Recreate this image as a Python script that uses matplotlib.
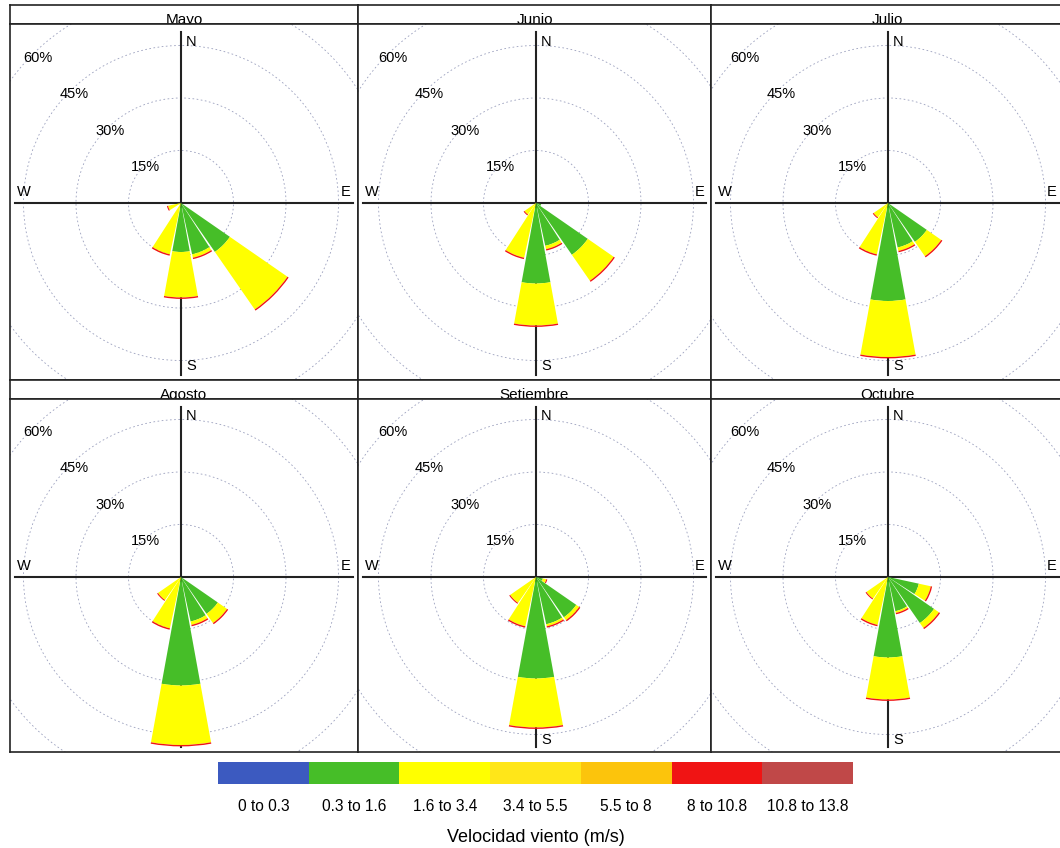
import matplotlib.pyplot as plt
from matplotlib.patches import Wedge, Circle

plt.rcParams['font.family'] = ['Liberation Sans', 'DejaVu Sans']

# data -------------------------------------------------------------
months = ['Mayo', 'Junio', 'Julio', 'Agosto', 'Setiembre', 'Octubre']
directions = ['N', 'NNE', 'NE', 'ENE', 'E', 'ESE', 'SE', 'SSE',
              'S', 'SSW', 'SW', 'WSW', 'W', 'WNW', 'NW', 'NNW']
speed_labels = ['0 to 0.3', '0.3 to 1.6', '1.6 to 3.4', '3.4 to 5.5',
                '5.5 to 8', '8 to 10.8', '10.8 to 13.8']
speed_colors = ['#3c5ac0', '#46be28', '#ffff00', '#ffe619',
                '#fcc40c', '#f01414', '#c04848']
rings = [15, 30, 45, 60]

# frequency (%) per direction, N first and clockwise
#              N  NNE NE ENE E  ESE  SE    SSE   S     SSW   SW   WSW  W WNW NW NNW
green_mayo  = [0, 0, 0, 0, 0, 0.0, 17.0, 15.0, 14.0, 0.0, 0.0, 0.0, 0, 0, 0, 0]
yellow_mayo = [0, 0, 0, 0, 0, 0.0, 20.0, 1.0, 13.0, 15.0, 0.0, 3.8, 0, 0, 0, 0]
red_mayo    = [0, 0, 0, 0, 0, 0.0, 0.4, 0.4, 0.4, 0.4, 0.0, 0.3, 0, 0, 0, 0]

green_junio  = [0, 0, 0, 0, 0, 1.5, 18.0, 12.5, 23.0, 0.0, 0.0, 0, 0, 0, 0, 0]
yellow_junio = [0, 0, 0, 0, 0, 0.0, 9.0, 1.0, 12.0, 16.0, 4.0, 0, 0, 0, 0, 0]
red_junio    = [0, 0, 0, 0, 0, 0.0, 0.4, 0.4, 0.4, 0.4, 0.3, 0, 0, 0, 0, 0]

green_julio  = [0, 0, 0, 0, 0, 0.0, 13.5, 13.0, 28.0, 0.0, 0.0, 0, 0, 0, 0, 0]
yellow_julio = [0, 0, 0, 0, 0, 0.0, 5.0, 1.0, 16.0, 15.0, 5.0, 0, 0, 0, 0, 0]
red_julio    = [0, 0, 0, 0, 0, 0.0, 0.4, 0.4, 0.4, 0.4, 0.3, 0, 0, 0, 0, 0]

green_agosto  = [0, 0, 0, 0, 0, 0.0, 12.8, 13.0, 31.0, 0.0, 0.0, 0, 0, 0, 0, 0]
yellow_agosto = [0, 0, 0, 0, 0, 0.0, 3.2, 1.0, 17.0, 15.0, 8.0, 0, 0, 0, 0, 0]
red_agosto    = [0, 0, 0, 0, 0, 0.0, 0.4, 0.4, 0.4, 0.4, 0.3, 0, 0, 0, 0, 0]

green_setiembre  = [0, 0, 0, 0, 0, 2.0, 14.0, 13.8, 29.0, 0.0, 0.0, 0, 0, 0, 0, 0]
yellow_setiembre = [0, 0, 0, 0, 0, 1.0, 1.0, 0.6, 14.0, 14.4, 9.0, 0, 0, 0, 0, 0]
red_setiembre    = [0, 0, 0, 0, 0, 0.3, 0.4, 0.4, 0.4, 0.4, 0.3, 0, 0, 0, 0, 0]

green_octubre  = [0, 0, 0, 0, 0, 9.0, 16.0, 10.0, 23.0, 0.0, 0.0, 0, 0, 0, 0, 0]
yellow_octubre = [0, 0, 0, 0, 0, 3.5, 1.7, 0.5, 12.0, 14.0, 7.5, 0, 0, 0, 0, 0]
red_octubre    = [0, 0, 0, 0, 0, 0.4, 0.4, 0.4, 0.4, 0.4, 0.3, 0, 0, 0, 0, 0]

greens = [green_mayo, green_junio, green_julio, green_agosto, green_setiembre, green_octubre]
yellows = [yellow_mayo, yellow_junio, yellow_julio, yellow_agosto, yellow_setiembre, yellow_octubre]
reds = [red_mayo, red_junio, red_julio, red_agosto, red_setiembre, red_octubre]

# layout (pixels of a 1060x848 canvas) ----------------------------
W, H = 1060, 848
PX = 3.5  # pixels per percent
col_edges = [(10, 358), (358, 711), (711, 1064)]
col_centers = [181, 536, 888]
row_plot = [(24, 380), (399, 752)]
row_title = [(5, 24), (380, 399)]
row_centers = [203, 577]
line_col = '#222222'

fig = plt.figure(figsize=(W / 100, H / 100), dpi=100)


def add_box(x0, x1, y0, y1):
    a = fig.add_axes([x0 / W, 1 - y1 / H, (x1 - x0) / W, (y1 - y0) / H])
    a.set_xticks([])
    a.set_yticks([])
    for s in a.spines.values():
        s.set_linewidth(1.2)
        s.set_color(line_col)
    return a


def draw_rose(ax, green, yellow, red):
    for i, d in enumerate(directions):
        ang = 90 - 22.5 * i
        r0 = 0
        for val, col in ((green[i], speed_colors[1]),
                         (yellow[i], speed_colors[2]),
                         (red[i], speed_colors[5])):
            if val > 0:
                ax.add_patch(Wedge((0, 0), r0 + val, ang - 10.3, ang + 10.3,
                                   width=val, facecolor=col,
                                   edgecolor='none', zorder=3))
            r0 += val


for k, month in enumerate(months):
    r, c = divmod(k, 3)
    x0, x1 = col_edges[c]
    cx, cy = col_centers[c], row_centers[r]
    ty0, ty1 = row_title[r]
    py0, py1 = row_plot[r]

    at = add_box(x0, x1, ty0, ty1)
    at.text(0.5, 0.02, month, ha='center', va='baseline', fontsize=11,
            transform=at.transAxes)

    ax = add_box(x0, x1, py0, py1)
    xlo, xhi = (x0 - cx) / PX, (x1 - cx) / PX
    ylo, yhi = (cy - py1) / PX, (cy - py0) / PX
    ax.set_xlim(xlo, xhi)
    ax.set_ylim(ylo, yhi)
    ax.set_facecolor('white')

    for ring in rings:
        ax.add_patch(Circle((0, 0), ring, fill=False, ec='#9a9fbd', lw=0.6,
                            ls=(0, (2, 3)), zorder=1))
        ax.text(-0.68 * ring, 0.69 * ring, f'{ring}%', ha='center',
                va='center', fontsize=10.5, zorder=2)

    ax.plot([0, 0], [ylo + 1.5, yhi - 2.3], color=line_col, lw=1.5, zorder=2)
    ax.plot([xlo + 1.5, xhi - 1.5], [0, 0], color=line_col, lw=1.5, zorder=2)
    ax.text(1.4, 46, 'N', ha='left', va='center', fontsize=10.5, zorder=2.5)
    ax.text(1.4, -46.6, 'S', ha='left', va='center', fontsize=10.5, zorder=2.5)
    ax.text(xlo + 2.0, 3.1, 'W', ha='left', va='center', fontsize=10.5, zorder=2.5)
    ax.text(xhi - 2.0, 3.1, 'E', ha='right', va='center', fontsize=10.5, zorder=2.5)

    draw_rose(ax, greens[k], yellows[k], reds[k])

# legend strip -----------------------------------------------------
lx0, lx1, ly0, ly1 = 218, 853, 762, 784
lg = fig.add_axes([lx0 / W, 1 - ly1 / H, (lx1 - lx0) / W, (ly1 - ly0) / H])
lg.bar(range(len(speed_labels)), 1, width=1, color=speed_colors)
lg.set_xlim(-0.5, len(speed_labels) - 0.5)
lg.set_ylim(0, 1)
lg.set_xticks(range(len(speed_labels)))
lg.set_xticklabels(speed_labels, fontsize=11.2)
lg.tick_params(axis='x', length=0, pad=11)
lg.set_yticks([])
for s in lg.spines.values():
    s.set_visible(False)

fig.text(536 / W, 1 - 838 / H, 'Velocidad viento (m/s)', ha='center',
         va='center', fontsize=13)

fig.savefig('out.png', dpi=100)
